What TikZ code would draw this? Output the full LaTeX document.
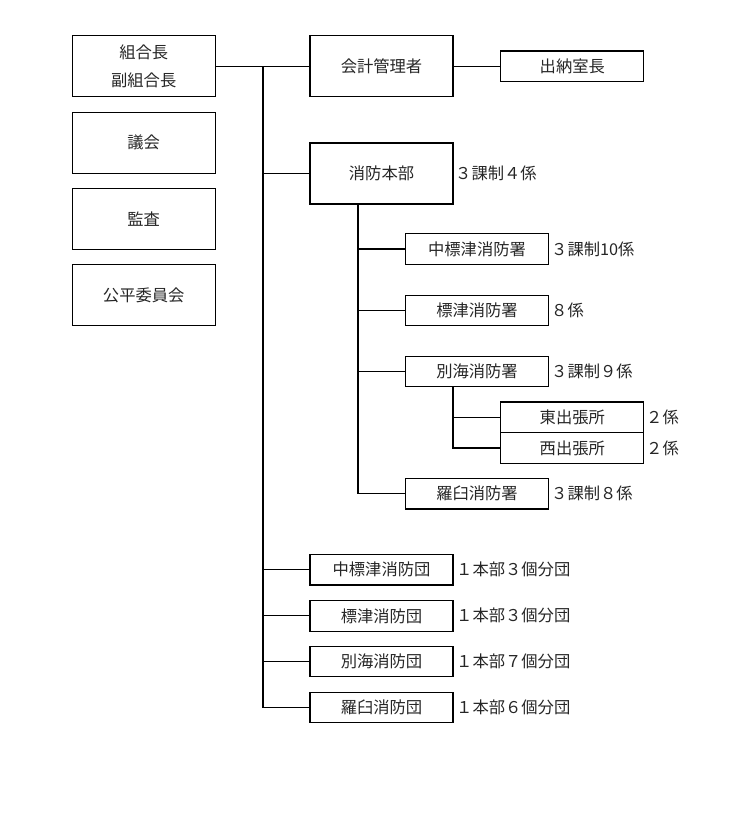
\documentclass[tikz,border=0pt]{standalone}
\usepackage{fontspec}
\setmainfont{Noto Sans CJK JP}
\usepackage{tikz}
\tikzset{unit/.style = {draw, line width = 1.2pt, inner sep = 0, text = black!85,
                        minimum width = 143, minimum height = 61,
                        font = \fontsize{16.3}{28.5}\selectfont}}
\tikzset{slim/.style = {unit, minimum height = 30.6}}
\tikzset{note/.style = {anchor = west, inner sep = 0, text = black!85,
                        font = \fontsize{16.3}{18}\selectfont}}
\tikzset{wire/.style = {line width = 1.2pt}}

\begin{document}
\begin{tikzpicture}[x = 1pt, y = -1pt]
    \useasboundingbox (0, 0) rectangle (750, 826);

    \node [unit, align = center] (chief) at (143.7, 66.4) {組合長\\副組合長};
    \node [unit] (assembly) at (143.7, 142.8) {議会};
    \node [unit] (audit) at (143.7, 218.8) {監査};
    \node [unit] (fairness) at (143.7, 295) {公平委員会};

    \node [unit] (accountant) at (381.5, 66.4) {会計管理者};
    \node [slim] (cashier) at (572.3, 66.4) {出納室長};
    \node [unit] (hq) at (381.5, 173.5) {消防本部};
    \node [note] at (455, 173.5) {３課制４係};

    \node [slim] (stnnaka) at (477, 249) {中標津消防署};
    \node [slim] (stnshibetsu) at (477, 310.5) {標津消防署};
    \node [slim] (stnbetsukai) at (477, 371.4) {別海消防署};
    \node [slim] (stnrausu) at (477, 493.7) {羅臼消防署};
    \node [note] at (551, 249) {３課制10係};
    \node [note] at (551, 310.5) {８係};
    \node [note] at (551, 371.4) {３課制９係};
    \node [note] at (551, 493.7) {３課制８係};

    \node [slim] (breast) at (572.3, 417.2) {東出張所};
    \node [slim] (brwest) at (572.3, 448) {西出張所};
    \node [note] at (646, 417.2) {２係};
    \node [note] at (646, 448) {２係};

    \node [slim] (corpsnaka) at (381.5, 569.7) {中標津消防団};
    \node [slim] (corpsshibetsu) at (381.5, 615.8) {標津消防団};
    \node [slim] (corpsbetsukai) at (381.5, 661.5) {別海消防団};
    \node [slim] (corpsrausu) at (381.5, 707.5) {羅臼消防団};
    \foreach \y/\t in {569.7/１本部３個分団, 615.8/１本部３個分団,
                       661.5/１本部７個分団, 707.5/１本部６個分団}
        \node [note] at (456, \y) {\t};

    \coordinate (trunk) at (263, 66.4);
    \coordinate (hqfoot) at (358, 204);
    \coordinate (bkfoot) at (453, 386.7);

    \draw [wire] (chief.east) -- (accountant.west);
    \draw [wire] (accountant.east) -- (cashier.west);
    \draw [wire] (trunk) |- (corpsrausu.west);
    \foreach \n in {hq, corpsnaka, corpsshibetsu, corpsbetsukai}
        \draw [wire] (trunk |- \n.west) -- (\n.west);

    \draw [wire] (hqfoot) |- (stnrausu.west);
    \foreach \n in {stnnaka, stnshibetsu, stnbetsukai}
        \draw [wire] (hqfoot |- \n.west) -- (\n.west);

    \draw [wire] (bkfoot) |- (brwest.west);
    \draw [wire] (bkfoot |- breast.west) -- (breast.west);
  \end{tikzpicture}
\end{document}
